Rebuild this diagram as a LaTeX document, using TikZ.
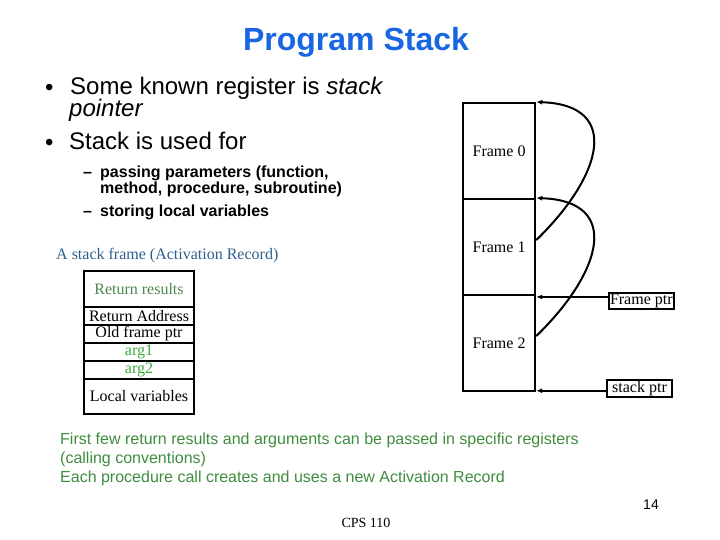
\documentclass[tikz,border=0pt]{standalone}
\usepackage{fontspec}
\setmainfont{Liberation Serif}
\setsansfont{Liberation Sans}
\usetikzlibrary{arrows.meta,calc}
\definecolor{titleblue}{RGB}{24,102,226}
\definecolor{capblue}{RGB}{46,94,140}
\definecolor{dullgreen}{RGB}{76,134,76}
\definecolor{argreen}{RGB}{60,170,60}
\definecolor{notegreen}{RGB}{62,140,62}
\begin{document}
\begin{tikzpicture}[x=1pt,y=-1pt,
  txt/.style={inner sep=0pt, anchor=base west},
  big/.style={font=\sffamily\fontsize{24}{26}\selectfont},
  sub/.style={font=\sffamily\bfseries\fontsize{16}{18}\selectfont},
  note/.style={font=\sffamily\fontsize{16}{18}\selectfont, text=notegreen},
  serif/.style={font=\rmfamily\fontsize{16}{18}\selectfont},
  framebox/.style={draw, line width=2.2pt, minimum width=72pt, minimum height=96pt, anchor=north west, inner sep=0pt, serif},
  recbox/.style={draw, line width=2pt, minimum width=110pt, anchor=north west, inner sep=0pt, serif},
  ptrbox/.style={draw, line width=2pt, inner sep=1pt, anchor=north west, serif},
  curve/.style={line width=2pt, -{Latex[length=6pt,width=5pt]}},
  arr/.style={line width=2pt, -{Latex[length=6pt,width=5pt]}}
]
\useasboundingbox (0,0) rectangle (720,540);

% title
\node[txt, anchor=base, text=titleblue, font=\sffamily\bfseries\fontsize{32}{36}\selectfont] (title) at (356,51) {Program Stack};

% bullets
\node[txt, font=\sffamily\fontsize{24}{26}\selectfont] (dot1) at (45,96) {•};
\node[txt, big] (b1) at (70,95) {Some known register is \textit{stack}};
\node[txt, big] (b1b) at (69,117) {\textit{pointer}};
\node[txt, font=\sffamily\fontsize{24}{26}\selectfont] (dot2) at (45,151) {•};
\node[txt, big] (b2) at (69,150) {Stack is used for};

\node[txt, sub] (da1) at (83,178) {–};
\node[txt, sub] (s1) at (100,178) {passing parameters (function,};
\node[txt, sub] (s1b) at (100,194) {method, procedure, subroutine)};
\node[txt, sub] (da2) at (83,216) {–};
\node[txt, sub] (s2) at (100,216) {storing local variables};

% activation record
\node[txt, serif, text=capblue] (cap) at (56,259) {A stack frame (Activation Record)};
\node[recbox, minimum height=36pt, text=dullgreen] (rr) at (83,270) {Return results};
\node[recbox, minimum height=18pt] (ra) at (83,306) {Return Address};
\node[recbox, minimum height=18pt] (of) at (83,324) {Old frame ptr};
\node[recbox, minimum height=18pt, text=argreen] (a1) at (83,342) {arg1};
\node[recbox, minimum height=18pt, text=argreen] (a2) at (83,360) {arg2};
\node[recbox, minimum height=35pt] (lv) at (83,378) {Local variables};

% stack
\node[framebox] (f0) at (462,102) {Frame 0};
\node[framebox] (f1) at (462,198) {Frame 1};
\node[framebox] (f2) at (462,294) {Frame 2};

\draw[curve] ([yshift=7pt]f1.east) .. controls +(66,-64) and +(86,3) .. (f0.north east);
\draw[curve] ([yshift=7pt]f2.east) .. controls +(66,-64) and +(86,3) .. (f1.north east);

\node[ptrbox] (fp) at (608,292) {Frame ptr};
\node[ptrbox, minimum width=65pt] (sp) at (606,379) {stack ptr};
\draw[arr] ([yshift=4pt]fp.west) -- ([yshift=4pt]fp.west -| f2.east);
\draw[arr] ([yshift=-2.5pt]sp.west) -- ([yshift=-2.5pt]sp.west -| f2.east);

% notes
\node[txt, note] (n1) at (60,444) {First few return results and arguments can be passed in specific registers};
\node[txt, note] (n2) at (60,463) {(calling conventions)};
\node[txt, note] (n3) at (60,482) {Each procedure call creates and uses a new Activation Record};

\node[txt, anchor=base east, font=\sffamily\fontsize{14}{16}\selectfont] (pg) at (659,509) {14};
\node[txt, anchor=base, font=\rmfamily\fontsize{14}{16}\selectfont] (cps) at (366,527) {CPS 110};
\end{tikzpicture}
\end{document}
